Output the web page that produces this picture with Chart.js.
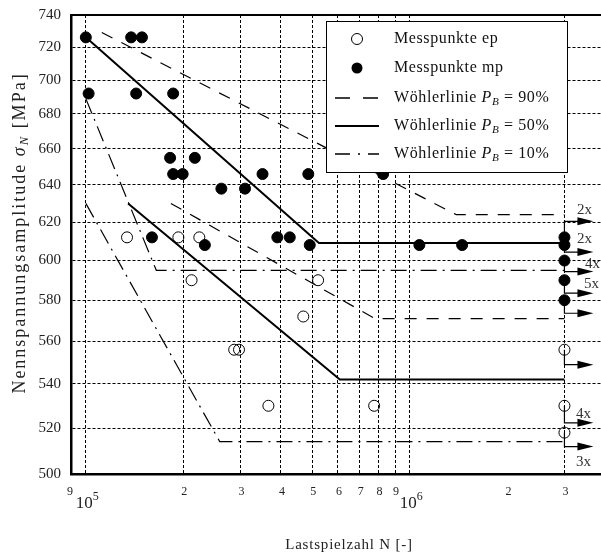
<!DOCTYPE html>
<html>
<head>
<meta charset="utf-8">
<script src="https://cdn.jsdelivr.net/npm/chart.js@4.4.1/dist/chart.umd.min.js"></script>
<style>
  html, body { margin: 0; padding: 0; background: #fff; }
  canvas { display: block; }
</style>
</head>
<body>
<canvas id="woehler" width="601" height="556"></canvas>
<script>
// Messpunkte mp (gefuellt): Lastspielzahl / Nennspannungsamplitude
const mpN = [1.0e5, 1.02e5, 1.38e5, 1.49e5, 1.43e5, 1.86e5, 1.82e5, 2.17e5, 1.86e5, 1.99e5,
             2.62e5, 3.1e5, 3.51e5, 3.9e5, 4.26e5, 1.6e5, 2.33e5, 4.86e5, 8.27e5, 4.91e5,
             1.07e6, 1.45e6, 3e6, 3e6, 3e6, 3e6, 3e6];
const mpS = [726, 692, 726, 726, 692, 692, 655, 655, 646, 646,
             638, 638, 646, 612, 612, 612, 608, 646, 646, 608,
             608, 608, 612, 608, 600, 590, 580];

// Messpunkte ep (offen)
const epN = [1.34e5, 1.93e5, 2.24e5, 2.12e5, 2.87e5, 2.97e5, 3.66e5, 5.21e5, 4.69e5, 7.76e5, 3e6, 3e6, 3e6];
const epS = [612, 612, 612, 590, 556, 556, 530, 590, 572, 530, 556, 530, 518];

// Woehlerlinien (Knickpunkt + Dauerfestigkeit bis 3e6)
const mp90N = [1.12e5, 1.39e6, 3e6], mp90S = [729, 624, 624];
const mp50N = [1.0e5, 5.24e5, 3e6],  mp50S = [726, 609, 609];
const mp10N = [1.0e5, 1.65e5, 3e6],  mp10S = [689, 595, 595];
const ep90N = [1.83e5, 7.8e5, 3e6],  ep90S = [630, 571, 571];
const ep50N = [1.35e5, 6.08e5, 3e6], ep50S = [630, 542, 542];
const ep10N = [1.0e5, 2.59e5, 3e6],  ep10S = [630, 514, 514];

// Durchlaeufer bei 3e6 und deren Anzahl
const runoutS = [612, 608, 600, 590, 580, 556, 530, 518];
const runoutCount = ['2x', '2x', '4x', '5x', '', '', '4x', '3x'];

// Achsen
const xGrid = [1e5, 2e5, 3e5, 4e5, 5e5, 6e5, 7e5, 8e5, 9e5, 1e6, 3e6];
const xMinor = [9e4, 2e5, 3e5, 4e5, 5e5, 6e5, 7e5, 8e5, 9e5, 2e6, 3e6];
const xMinorLabels = ['9', '2', '3', '4', '5', '6', '7', '8', '9', '2', '3'];
const xDecades = [1e5, 1e6];
const xDecadeExp = ['5', '6'];
const yTicks = [500, 520, 540, 560, 580, 600, 620, 640, 660, 680, 700, 720, 740];

const FONT = '"Liberation Serif", "Times New Roman", serif';
const DASH_90 = [12, 10];
const DASH_10 = [16, 6, 2, 6];

// arrow geometry for the run-outs (vertical drop in px, label offset)
const arrowDrop = [-16, 7, 11, 13, 13, 15, 17, 14];
const labelOff = [[20, -11], [20, -13], [28, -7], [27, -9], [0, 0], [0, 0], [19, -9], [19, 15]];

function pts(xs, ys) {
  return xs.map((x, i) => ({ x: x, y: ys[i] }));
}

function lineSet(xs, ys, width, dash) {
  return {
    data: pts(xs, ys),
    showLine: true,
    borderColor: '#000',
    borderWidth: width,
    borderDash: dash,
    pointRadius: 0,
    fill: false
  };
}

// draws text made of parts {t, it, sub}
function rich(ctx, parts, x, y, size, align) {
  const segs = parts.map(p => {
    const s = p.sub ? size * 0.7 : size;
    const f = (p.it ? 'italic ' : '') + s + 'px ' + FONT;
    ctx.font = f;
    return { t: p.t, f: f, w: ctx.measureText(p.t).width, dy: p.sub ? size * 0.25 : 0 };
  });
  const total = segs.reduce((a, s) => a + s.w, 0);
  let cx = align === 'center' ? x - total / 2 : x;
  ctx.textAlign = 'left';
  ctx.textBaseline = 'middle';
  segs.forEach(s => {
    ctx.font = s.f;
    ctx.fillText(s.t, cx, y + s.dy);
    cx += s.w;
  });
}

function strokeSample(ctx, x0, x1, y, width, dash) {
  ctx.save();
  ctx.lineWidth = width;
  ctx.setLineDash(dash);
  ctx.beginPath();
  ctx.moveTo(x0, y);
  ctx.lineTo(x1, y);
  ctx.stroke();
  ctx.restore();
}

const decorPlugin = {
  id: 'decor',
  afterDraw(chart) {
    const ctx = chart.ctx;
    const xs = chart.scales.x, ys = chart.scales.y;
    const area = chart.chartArea;
    ctx.save();
    ctx.fillStyle = '#000';
    ctx.strokeStyle = '#000';

    // top frame line
    ctx.lineWidth = 2;
    ctx.beginPath();
    ctx.moveTo(area.left, area.top);
    ctx.lineTo(area.right, area.top);
    ctx.stroke();

    // y tick labels
    ctx.fillStyle = '#222';
    ctx.font = '15px ' + FONT;
    ctx.textAlign = 'right';
    ctx.textBaseline = 'middle';
    yTicks.forEach(v => ctx.fillText(String(v), 61, ys.getPixelForValue(v)));

    // x tick labels
    ctx.font = '12px ' + FONT;
    ctx.textAlign = 'center';
    xMinor.forEach((v, i) => {
      const px = Math.max(xs.getPixelForValue(v), 70);
      ctx.fillText(xMinorLabels[i], px + (i === 0 ? -1 : 1), 492);
    });
    xDecades.forEach((v, i) => {
      const px = xs.getPixelForValue(v);
      ctx.textAlign = 'left';
      ctx.font = '17px ' + FONT;
      ctx.fillText('10', px - 10, 504);
      const w = ctx.measureText('10').width;
      ctx.font = '12px ' + FONT;
      ctx.fillText(xDecadeExp[i], px - 10 + w, 497);
    });

    // axis titles
    ctx.letterSpacing = '0.8px';
    rich(ctx, [{ t: 'Lastspielzahl N [-]' }], 349, 545, 15, 'center');
    ctx.save();
    ctx.translate(20, 233);
    ctx.rotate(-Math.PI / 2);
    ctx.letterSpacing = '2px';
    rich(ctx, [{ t: 'Nennspannungsamplitude ' }, { t: '\u03c3', it: true }, { t: 'N', it: true, sub: true }, { t: ' [MPa]' }], 0, 0, 18, 'center');
    ctx.restore();
    ctx.letterSpacing = '0px';

    // run-out arrows at 3e6
    ctx.fillStyle = '#000';
    const ax = xs.getPixelForValue(3e6);
    ctx.lineWidth = 1.2;
    ctx.setLineDash([]);
    runoutS.forEach((s, i) => {
      const py = ys.getPixelForValue(s);
      const ay = py + arrowDrop[i];
      ctx.beginPath();
      ctx.moveTo(ax, py);
      ctx.lineTo(ax, ay);
      ctx.lineTo(ax + 15, ay);
      ctx.stroke();
      ctx.beginPath();
      ctx.moveTo(ax + 13, ay - 4);
      ctx.lineTo(ax + 29, ay);
      ctx.lineTo(ax + 13, ay + 4);
      ctx.closePath();
      ctx.fill();
      if (runoutCount[i]) {
        ctx.fillStyle = '#333';
        rich(ctx, [{ t: runoutCount[i] }], ax + labelOff[i][0], ay + labelOff[i][1], 15, 'center');
        ctx.fillStyle = '#000';
      }
    });

    // legend box
    const L = { l: 326, t: 21, r: 567, b: 172 };
    ctx.fillStyle = '#fff';
    ctx.fillRect(L.l, L.t, L.r - L.l, L.b - L.t);
    ctx.lineWidth = 1;
    ctx.strokeRect(L.l + 0.5, L.t + 0.5, L.r - L.l, L.b - L.t);
    const rows = [39, 68, 98, 126, 154];
    const sx = 357, s0 = 335, s1 = 379, tx = 394;
    ctx.beginPath();
    ctx.arc(sx, rows[0], 5.5, 0, Math.PI * 2);
    ctx.stroke();
    ctx.fillStyle = '#000';
    ctx.beginPath();
    ctx.arc(sx, rows[1], 5.5, 0, Math.PI * 2);
    ctx.fill();
    strokeSample(ctx, s0, s1, rows[2], 1.3, [15, 13]);
    strokeSample(ctx, s0, s1, rows[3], 2, []);
    strokeSample(ctx, s0, s1, rows[4], 1.3, [15, 8, 2, 8]);

    ctx.fillStyle = '#111';
    ctx.letterSpacing = '0.6px';
    rich(ctx, [{ t: 'Messpunkte ep' }], tx, rows[0], 16, 'left');
    rich(ctx, [{ t: 'Messpunkte mp' }], tx, rows[1], 16, 'left');
    ['90%', '50%', '10%'].forEach((p, i) => {
      rich(ctx, [{ t: 'W\u00f6hlerlinie ' }, { t: 'P', it: true }, { t: 'B', it: true, sub: true }, { t: ' = ' + p }], tx, rows[2 + i], 16, 'left');
    });
    ctx.letterSpacing = '0px';
    ctx.restore();
  }
};

new Chart(document.getElementById('woehler'), {
  type: 'scatter',
  data: {
    datasets: [
      { data: pts(mpN, mpS), pointRadius: 5.5, pointBackgroundColor: '#000', pointBorderColor: '#000', pointBorderWidth: 1 },
      { data: pts(epN, epS), pointRadius: 5.5, pointBackgroundColor: 'rgba(0,0,0,0)', pointBorderColor: '#000', pointBorderWidth: 1 },
      lineSet(mp90N, mp90S, 1.2, DASH_90),
      lineSet(mp50N, mp50S, 2, []),
      lineSet(mp10N, mp10S, 1.2, DASH_10),
      lineSet(ep90N, ep90S, 1.2, DASH_90),
      lineSet(ep50N, ep50S, 2, []),
      lineSet(ep10N, ep10S, 1.2, DASH_10)
    ]
  },
  options: {
    responsive: false,
    animation: false,
    devicePixelRatio: 1,
    layout: { autoPadding: false, padding: { left: 71, top: 15, right: 0, bottom: 82 } },
    plugins: { legend: { display: false }, tooltip: { enabled: false } },
    scales: {
      x: {
        type: 'logarithmic',
        min: 9e4,
        max: 3.89e6,
        bounds: 'data',
        afterBuildTicks: axis => { axis.ticks = xGrid.map(v => ({ value: v })); },
        ticks: { display: false },
        grid: { color: '#000', lineWidth: 1, drawTicks: false },
        border: { display: true, color: '#000', width: 2.5, dash: [3, 2] }
      },
      y: {
        type: 'logarithmic',
        min: 500,
        max: 740,
        bounds: 'data',
        afterBuildTicks: axis => { axis.ticks = yTicks.slice(1, -1).map(v => ({ value: v })); },
        ticks: { display: false },
        grid: { color: '#000', lineWidth: 1, drawTicks: false },
        border: { display: true, color: '#000', width: 2.5, dash: [3, 2] }
      }
    }
  },
  plugins: [decorPlugin]
});
</script>
</body>
</html>
